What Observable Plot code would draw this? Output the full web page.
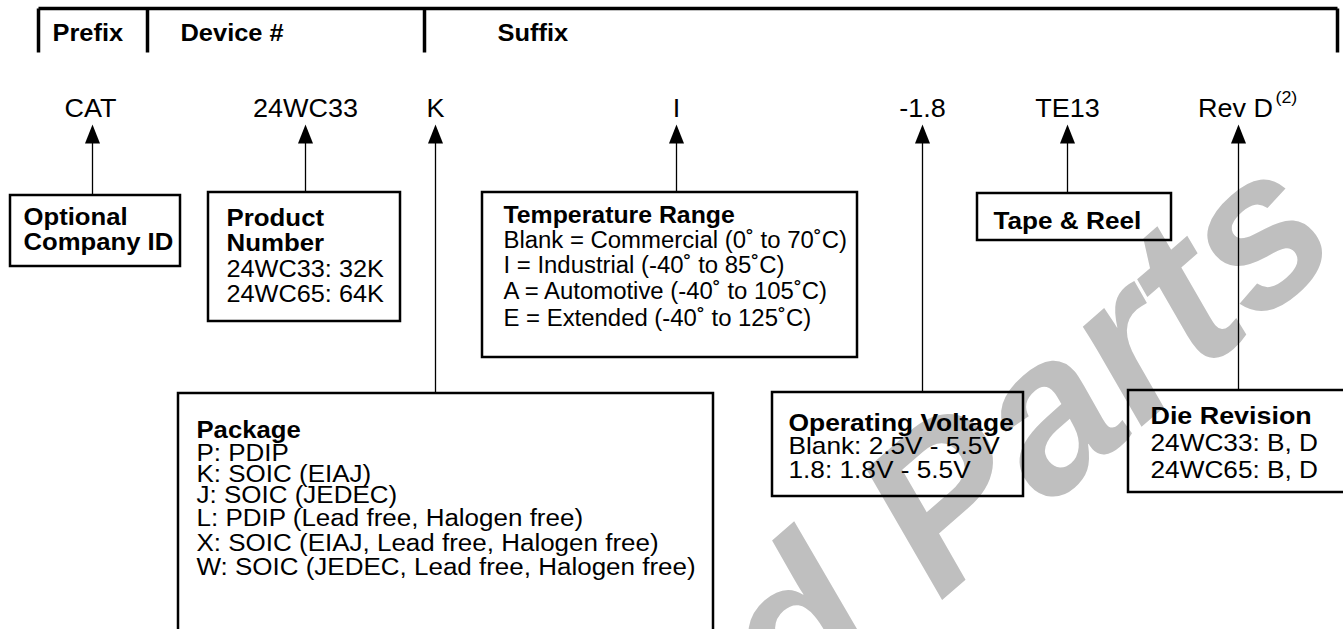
<!DOCTYPE html>
<html><head><meta charset="utf-8">
<script src="https://cdn.jsdelivr.net/npm/d3@7"></script>
<script src="https://cdn.jsdelivr.net/npm/@observablehq/plot@0.6"></script>
<style>
html,body{margin:0;padding:0;background:#fff;overflow:hidden}
#chart svg{overflow:hidden;display:block}
</style>
</head><body><div id="chart"></div>
<script>
// ---------- content ----------
const fields = ["Prefix", "Device #", "Suffix"];
const codes = ["CAT", "24WC33", "K", "I", "-1.8", "TE13", "Rev D"];
const codeNote = "(2)";
const boxTitles = [
  ["Optional", "Company ID"],
  ["Product", "Number"],
  ["Temperature Range"],
  ["Package"],
  ["Operating Voltage"],
  ["Tape & Reel"],
  ["Die Revision"]
];
const boxBodies = [
  [],
  ["24WC33: 32K", "24WC65: 64K"],
  ["Blank = Commercial (0˚ to 70˚C)", "I = Industrial (-40˚ to 85˚C)", "A = Automotive (-40˚ to 105˚C)", "E = Extended (-40˚ to 125˚C)"],
  ["P: PDIP", "K: SOIC (EIAJ)", "J: SOIC (JEDEC)", "L: PDIP (Lead free, Halogen free)", "X: SOIC (EIAJ, Lead free, Halogen free)", "W: SOIC (JEDEC, Lead free, Halogen free)"],
  ["Blank: 2.5V - 5.5V", "1.8: 1.8V - 5.5V"],
  [],
  ["24WC33: B, D", "24WC65: B, D"]
];
const watermark = "d Parts";

// ---------- layout ----------
const W = 1343, H = 629;
const headerTop = 8, headerBottom = 52, headerLeft = 38, headerRight = 1337;
const dividerX = [38, 147, 424, 1337];
const fieldX = [52, 180, 497];
const fieldBase = 40;
const codeX = [90, 305, 435, 676, 922, 1067, 1235];
const codeBase = 116;
const noteX = 1275, noteBase = 102;
const arrowX = [92, 305, 435, 676, 922, 1067, 1238];
const arrowTip = 124;
const arrowFoot = [195, 192, 393, 192, 392, 193, 390];
const boxRect = [
  [10, 195, 180, 266],
  [208, 192, 400, 321],
  [482, 192, 857, 357],
  [178, 393, 713, 660],
  [772, 392, 1023, 496],
  [977, 193, 1171, 240],
  [1128, 390, 1360, 492]
];
const textX = [23, 226, 503, 196, 788, 993, 1150];
const titleBase = [[224, 249], [225, 250], [222], [437], [430], [228], [423]];
const bodyBase = [[], [276, 301], [247, 272, 298, 325], [460, 481, 502, 525, 550, 574], [453, 477], [], [450, 477]];
const markX = 794, markY = 728, markAngle = -41;
// horizontal glyph stretch (the reference face is wider than Liberation Sans)
const fieldStretch = 1.06, codeStretch = 1.08, noteStretch = 1.05;
const titleStretch = [1.07, 1.077, 1.035, 1.07, 1.10, 1.09, 1.12];
const bodyStretch = [1, 1.10, 1.04, 1.13, 1.14, 1, 1.14];

// ---------- tables ----------
const headerLines = [
  {x1: headerLeft, y1: headerTop, x2: headerRight, y2: headerTop},
  ...dividerX.map(x => ({x1: x, y1: headerTop, x2: x, y2: headerBottom}))
];
const fieldRows = fields.map((t, i) => ({t, x: fieldX[i], y: fieldBase}));
const codeRows = codes.map((t, i) => ({t, x: codeX[i], y: codeBase}));
const arrowRows = codes.map((t, i) => ({x: arrowX[i], tip: arrowTip, foot: arrowFoot[i]}));
const boxRows = boxRect.map(([x1, y1, x2, y2]) => ({x1, y1, x2, y2}));
const titleRows = boxTitles.flatMap((ls, i) => ls.map((t, j) => ({t, box: i, x: textX[i], y: titleBase[i][j]})));
const bodyRows = boxBodies.flatMap((ls, i) => ls.map((t, j) => ({t, box: i, x: textX[i], y: bodyBase[i][j]})));
const markRows = [{t: watermark, x: markX, y: markY}];

const arrowHead = {
  draw(ctx, size) {
    const r = Math.sqrt(size / Math.PI);
    ctx.moveTo(0, -r);
    ctx.lineTo(0.75 * r, 0.9 * r);
    ctx.lineTo(-0.75 * r, 0.9 * r);
    ctx.closePath();
  }
};

const font = "'Liberation Sans', Arial, Helvetica, sans-serif";

const chart = Plot.plot({
  width: W, height: H, margin: 0,
  x: {domain: [0, W], range: [0, W], axis: null},
  y: {domain: [0, H], range: [0, H], axis: null},
  style: {fontFamily: font, background: "white", color: "black"},
  marks: [
    Plot.text(markRows, {x: "x", y: "y", text: "t", rotate: markAngle,
      textAnchor: "start", lineAnchor: "bottom", fontSize: 216, fontWeight: "bold",
      fontStyle: "italic", fill: "#bfbfbf"}),
    Plot.link(headerLines, {x1: "x1", y1: "y1", x2: "x2", y2: "y2", stroke: "black", strokeWidth: 3.5}),
    Plot.text(fieldRows, {x: "x", y: "y", text: "t", textAnchor: "start", lineAnchor: "bottom",
      fontSize: 24, fontWeight: "bold", fill: "black"}),
    Plot.text(codeRows, {x: "x", y: "y", text: "t", textAnchor: "middle", lineAnchor: "bottom",
      fontSize: 25, fill: "black"}),
    Plot.text([codeNote], {x: () => noteX, y: () => noteBase, text: d => d, textAnchor: "start",
      lineAnchor: "bottom", fontSize: 17, fill: "black"}),
    Plot.link(arrowRows, {x1: "x", y1: d => d.tip + 12, x2: "x", y2: "foot", stroke: "black", strokeWidth: 1.3}),
    Plot.dot(arrowRows, {x: "x", y: "tip", dy: 10, r: 10, symbol: arrowHead, fill: "black", stroke: "none"}),
    Plot.rect(boxRows, {x1: "x1", y1: "y1", x2: "x2", y2: "y2", fill: "none", stroke: "black", strokeWidth: 2.5}),
    Plot.text(titleRows, {x: "x", y: "y", text: "t", textAnchor: "start", lineAnchor: "bottom",
      fontSize: 24, fontWeight: "bold", fill: "black"}),
    Plot.text(bodyRows, {x: "x", y: "y", text: "t", textAnchor: "start", lineAnchor: "bottom",
      fontSize: 23, fill: "black"})
  ]
});

// widen glyphs horizontally around each text's anchor
const groups = chart.querySelectorAll('g[aria-label="text"]');
function stretch(group, factorOf) {
  if (!group) return;
  group.querySelectorAll("text").forEach((el, i) => {
    const tr = el.getAttribute("transform") || "";
    el.setAttribute("transform", `${tr} scale(${factorOf(i)},1)`);
  });
}
stretch(groups[1], () => fieldStretch);
stretch(groups[2], () => codeStretch);
stretch(groups[3], () => noteStretch);
stretch(groups[4], i => titleStretch[titleRows[i].box]);
stretch(groups[5], i => bodyStretch[bodyRows[i].box]);

document.getElementById("chart").appendChild(chart);
</script>
</body></html>
